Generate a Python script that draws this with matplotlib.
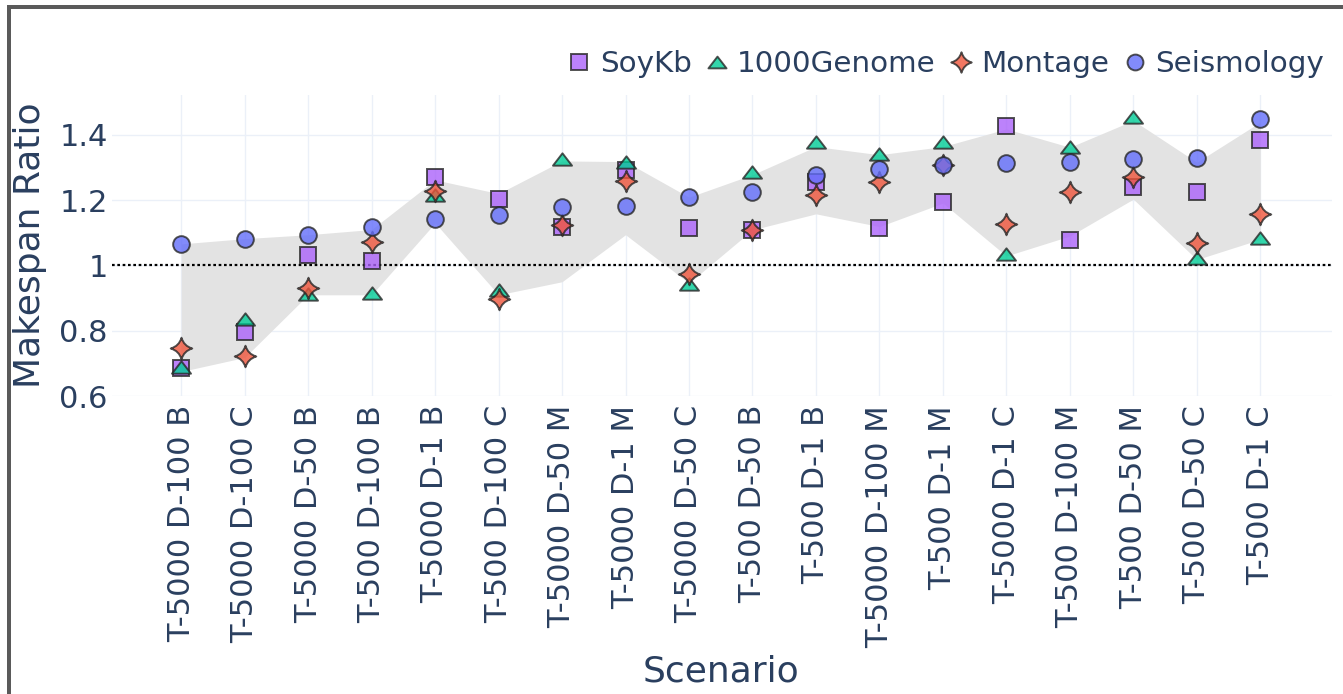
import numpy as np
import matplotlib
matplotlib.use("Agg")
import matplotlib.pyplot as plt
from matplotlib.path import Path
from matplotlib.lines import Line2D
from matplotlib.patches import Rectangle

# scenario order along the x axis
categories = ["T-5000 D-100 B", "T-5000 D-100 C", "T-5000 D-50 B", "T-500 D-100 B",
              "T-5000 D-1 B", "T-500 D-100 C", "T-5000 D-50 M", "T-5000 D-1 M",
              "T-5000 D-50 C", "T-500 D-50 B", "T-500 D-1 B", "T-5000 D-100 M",
              "T-500 D-1 M", "T-5000 D-1 C", "T-500 D-100 M", "T-500 D-50 M",
              "T-500 D-50 C", "T-500 D-1 C"]

soykb = [0.686, 0.796, 1.031, 1.012, 1.272, 1.203, 1.119, 1.293, 1.114,
         1.107, 1.257, 1.114, 1.193, 1.427, 1.077, 1.241, 1.224, 1.383]
genome = [0.688, 0.836, 0.913, 0.917, 1.216, 0.925, 1.326, 1.318, 0.943,
          1.285, 1.377, 1.342, 1.377, 1.034, 1.364, 1.456, 1.024, 1.085]
montage = [0.747, 0.721, 0.931, 1.073, 1.227, 0.898, 1.124, 1.260, 0.974,
           1.107, 1.216, 1.254, 1.308, 1.126, 1.226, 1.270, 1.070, 1.159]
seismology = [1.066, 1.082, 1.094, 1.119, 1.143, 1.155, 1.179, 1.183, 1.209,
              1.224, 1.278, 1.295, 1.308, 1.313, 1.316, 1.326, 1.328, 1.447]

# shaded band
band_high = [1.066, 1.082, 1.094, 1.110, 1.262, 1.220, 1.320, 1.318, 1.209,
             1.278, 1.364, 1.339, 1.364, 1.418, 1.362, 1.444, 1.316, 1.439]
band_low = [0.675, 0.718, 0.910, 0.910, 1.130, 0.910, 0.950, 1.094, 0.946,
            1.109, 1.158, 1.119, 1.191, 1.029, 1.090, 1.203, 1.018, 1.080]

yticks = [0.6, 0.8, 1.0, 1.2, 1.4]
ytick_labels = ["0.6", "0.8", "1", "1.2", "1.4"]

text_col = "#2a3f5f"
plt.rcParams["font.family"] = "DejaVu Sans"

# plotly-like marker shapes
tri = Path([(0, 0.75), (-1.155, -0.75), (1.155, -0.75), (0, 0.75)],
           [Path.MOVETO, Path.LINETO, Path.LINETO, Path.CLOSEPOLY])
c = 0.22
star = Path([(0, 1), (c, c), (1, 0), (c, -c), (0, -1), (-c, -c), (-1, 0), (-c, c), (0, 1), (0, 1)],
            [Path.MOVETO] + [Path.CURVE3] * 8 + [Path.CLOSEPOLY])

series = [
    ("SoyKb", soykb, "s", 11.5, "#AB63FA"),
    ("1000Genome", genome, tri, 13.7, "#00CC96"),
    ("Montage", montage, star, 15.5, "#EF553B"),
    ("Seismology", seismology, "o", 12, "#636EFA"),
]

W, H = 1343, 694
fig = plt.figure(figsize=(W / 100, H / 100), dpi=100)
ax = fig.add_axes([112 / W, 1 - 396 / H, 1220 / W, (396 - 95) / H])

x = np.arange(len(categories))
ax.fill_between(x, band_low, band_high, color="#e3e3e3", linewidth=0, zorder=1)
ax.axhline(1.0, color="black", linestyle=(0, (1.2, 1.2)), linewidth=1.6, zorder=2)

handles = []
for name, vals, mk, ms, col in series:
    ax.plot(x, vals, linestyle="none", marker=mk, markersize=ms, markerfacecolor=col,
            markeredgecolor="#262626", markeredgewidth=1.4, alpha=0.8, zorder=3)
    handles.append(Line2D([], [], linestyle="none", marker=mk, markersize=ms * 0.95,
                          markerfacecolor=col, markeredgecolor="#262626",
                          markeredgewidth=1.4, alpha=0.8, label=name))

ax.set_xlim(-1.09, 18.13)
ax.set_ylim(0.6, 1.522)
ax.set_xticks(x)
ax.set_xticklabels(categories, rotation=90)
ax.set_yticks(yticks)
ax.set_yticklabels(ytick_labels)
ax.tick_params(axis="both", length=0, labelsize=22, labelcolor=text_col)
ax.tick_params(axis="x", pad=6.5)
ax.tick_params(axis="y", pad=3)
ax.grid(True, color="#EBF0F8", linewidth=1.0, zorder=0)
ax.set_axisbelow(True)
for s in ax.spines.values():
    s.set_visible(False)

fig.text(30 / W, 1 - 245 / H, "Makespan Ratio", rotation=90, ha="center", va="center",
         fontsize=26, color=text_col)
fig.text(721 / W, 1 - 671 / H, "Scenario", ha="center", va="center",
         fontsize=26, color=text_col)

leg = fig.legend(handles=handles, loc="center right", bbox_to_anchor=(1324 / W, 1 - 64 / H),
                 ncol=4, frameon=False, fontsize=21.2, handlelength=0.8, handletextpad=0.3,
                 columnspacing=0.45, borderpad=0, borderaxespad=0)
for t in leg.get_texts():
    t.set_color(text_col)

# dark frame on the top and left edges
fig.add_artist(Rectangle((7 / W, 1 - 9 / H), 1, 4 / H, transform=fig.transFigure,
                         color="#5a5a5a", linewidth=0))
fig.add_artist(Rectangle((7 / W, 0), 4 / W, 1 - 5 / H, transform=fig.transFigure,
                         color="#5a5a5a", linewidth=0))

fig.savefig("out.png", dpi=100)
